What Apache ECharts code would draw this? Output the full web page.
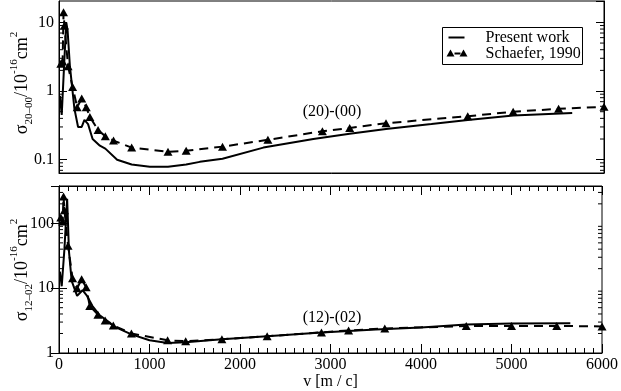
<!DOCTYPE html>
<html>
<head>
<meta charset="utf-8">
<script src="https://cdn.jsdelivr.net/npm/echarts@6/dist/echarts.min.js"></script>
<style>
  html, body { margin: 0; padding: 0; background: #fff; }
  #chart { width: 621px; height: 391px; }
</style>
</head>
<body>
<div id="chart"></div>
<script>
// (20)-(00) panel
var presentTopV = [10, 30, 60, 80, 95, 120, 170, 210, 250, 280, 320, 370, 450, 510, 640, 800, 1000, 1200, 1400, 1550, 1800, 2250, 2800, 3200, 3600, 4100, 4500, 5000, 5650];
var presentTop = [0.85, 0.45, 3, 10, 7.5, 2.3, 0.55, 0.3, 0.3, 0.38, 0.33, 0.2, 0.16, 0.145, 0.1, 0.085, 0.079, 0.079, 0.085, 0.093, 0.103, 0.15, 0.2, 0.238, 0.28, 0.33, 0.38, 0.44, 0.48];
var schaeferTopV = [20, 40, 50, 60, 100, 150, 200, 250, 300, 340, 430, 510, 600, 800, 1200, 1400, 1800, 2300, 2900, 3200, 3600, 4500, 5000, 5500, 6000];
var schaeferTop = [2.5, 2.7, 14, 9, 2.3, 1.15, 0.58, 0.78, 0.58, 0.42, 0.27, 0.22, 0.19, 0.15, 0.13, 0.135, 0.155, 0.195, 0.26, 0.29, 0.34, 0.43, 0.5, 0.55, 0.59];

// (12)-(02) panel
var presentBotV = [10, 30, 60, 90, 110, 140, 200, 260, 310, 370, 450, 560, 600, 800, 1000, 1200, 1400, 1800, 2300, 2900, 3500, 4000, 4500, 5000, 5650];
var presentBot = [18, 10.7, 40, 240, 37, 13, 7.6, 9.3, 7.6, 5.3, 3.8, 2.95, 2.6, 1.94, 1.57, 1.43, 1.47, 1.63, 1.81, 2.08, 2.31, 2.48, 2.75, 2.85, 2.87];
var schaeferBotV = [20, 40, 50, 60, 100, 150, 200, 250, 300, 340, 430, 510, 600, 800, 1200, 1400, 1800, 2300, 2900, 3200, 3600, 4500, 5000, 5500, 6000];
var schaeferBot = [123, 107, 260, 160, 45, 14.2, 10, 13.7, 10.3, 5.3, 3.9, 3.16, 2.66, 2.0, 1.57, 1.52, 1.63, 1.81, 2.08, 2.23, 2.39, 2.6, 2.6, 2.62, 2.57];

// log minor ticks
var minorTop = [0.07, 0.08, 0.09, 0.2, 0.3, 0.4, 0.5, 0.6, 0.7, 0.8, 0.9, 2, 3, 4, 5, 6, 7, 8, 9];
var minorBot = [2, 3, 4, 5, 6, 7, 8, 9, 20, 30, 40, 50, 60, 70, 80, 90, 200, 300];

var xTicks = [0, 1000, 2000, 3000, 4000, 5000, 6000];

function pairs(xs, ys) {
  return xs.map(function (x, i) { return [x, ys[i]]; });
}

var FONT = 'Liberation Serif';
var chart = echarts.init(document.getElementById('chart'));

function minorTickItem(params, api) {
  var v = api.value(1);
  var l = api.coord([xTicks[0], v]);
  var r = api.coord([xTicks[xTicks.length - 1], v]);
  return {
    type: 'group',
    children: [
      { type: 'line', shape: { x1: l[0], y1: l[1], x2: l[0] + 4, y2: l[1] }, style: { stroke: '#000', lineWidth: 1 } },
      { type: 'line', shape: { x1: r[0] - 4, y1: r[1], x2: r[0], y2: r[1] }, style: { stroke: '#000', lineWidth: 1 } }
    ]
  };
}

function yAxis(grid, pos, min, max, labels, showMin) {
  return {
    type: 'log', logBase: 10, gridIndex: grid, position: pos, min: min, max: max,
    axisLine: { show: true, lineStyle: { color: '#000' } },
    axisTick: { inside: true, length: 8, lineStyle: { color: '#000' } },
    axisLabel: {
      show: labels, showMinLabel: showMin, showMaxLabel: false,
      color: '#000', fontFamily: FONT, fontSize: 16, margin: 5
    },
    splitLine: { show: false }
  };
}

var axisName = {
  n: { fontFamily: FONT, fontSize: 18, color: '#000', lineHeight: 26 },
  sub: { fontFamily: FONT, fontSize: 11, color: '#000', lineHeight: 26, verticalAlign: 'bottom' },
  sup: { fontFamily: FONT, fontSize: 11, color: '#000', lineHeight: 26, verticalAlign: 'top' }
};

var textBase = { fontFamily: FONT, fontSize: 16, fill: '#000' };

chart.setOption({
  animation: false,
  textStyle: { fontFamily: FONT },
  grid: [
    { left: 59, right: 17, top: 1, height: 172, show: true, borderColor: '#000', borderWidth: 1 },
    { left: 59, right: 17, top: 186, height: 170, show: true, borderColor: '#000', borderWidth: 1 }
  ],
  xAxis: [
    {
      type: 'value', gridIndex: 0, min: 0, max: 6000, interval: 1000,
      axisLine: { show: true, lineStyle: { color: '#000' } },
      axisTick: { show: false }, axisLabel: { show: false }, splitLine: { show: false }
    },
    {
      type: 'value', gridIndex: 1, min: 0, max: 6000, interval: 1000,
      name: 'v [m / c]', nameLocation: 'middle', nameGap: 21,
      nameTextStyle: { fontFamily: FONT, fontSize: 16, color: '#000' },
      axisLine: { show: true, lineStyle: { color: '#000' } },
      axisTick: { inside: true, length: 9, lineStyle: { color: '#000' } },
      minorTick: { show: true, splitNumber: 10, length: 5, lineStyle: { color: '#000' } },
      axisLabel: {
        color: '#000', fontFamily: FONT, fontSize: 16, margin: 4,
        formatter: function (v) { return String(v); }
      },
      splitLine: { show: false }
    },
    {
      type: 'value', gridIndex: 1, position: 'top', min: 0, max: 6000, interval: 1000,
      axisLine: { show: true, lineStyle: { color: '#000' } },
      axisTick: { inside: true, length: 9, lineStyle: { color: '#000' } },
      minorTick: { show: true, splitNumber: 10, length: 5, lineStyle: { color: '#000' } },
      axisLabel: { show: false }, splitLine: { show: false }
    }
  ],
  yAxis: [
    yAxis(0, 'left', 0.064, 20.5, true, false),
    yAxis(0, 'right', 0.064, 20.5, false, false),
    yAxis(1, 'left', 1, 377, true, true),
    yAxis(1, 'right', 1, 377, false, false)
  ],
  graphic: [
    {
      type: 'text', x: 22, y: 83, rotation: Math.PI / 2,
      style: {
        text: '{n|σ}{sub|20–00}{n|/10}{sup|-16}{n|cm}{sup|2}',
        rich: axisName, align: 'center', verticalAlign: 'middle'
      }
    },
    {
      type: 'text', x: 22, y: 270, rotation: Math.PI / 2,
      style: {
        text: '{n|σ}{sub|12–02}{n|/10}{sup|-16}{n|cm}{sup|2}',
        rich: axisName, align: 'center', verticalAlign: 'middle'
      }
    },
    {
      type: 'text', x: 332, y: 112,
      style: Object.assign({ text: '(20)-(00)', align: 'center', verticalAlign: 'middle' }, textBase)
    },
    {
      type: 'text', x: 332, y: 318,
      style: Object.assign({ text: '(12)-(02)', align: 'center', verticalAlign: 'middle' }, textBase)
    },
    // legend box
    {
      type: 'group', left: 442, top: 27,
      children: [
        { type: 'rect', shape: { x: 0, y: 0, width: 140, height: 37 }, style: { fill: '#fff', stroke: '#000', lineWidth: 1 } },
        { type: 'line', shape: { x1: 6, y1: 10, x2: 22, y2: 10 }, style: { stroke: '#000', lineWidth: 2 } },
        { type: 'text', x: 43, y: 10, style: Object.assign({ text: 'Present work', verticalAlign: 'middle' }, textBase) },
        { type: 'polygon', shape: { points: [[4, 29], [8, 22], [12, 29]] }, style: { fill: '#000' } },
        { type: 'line', shape: { x1: 12, y1: 26, x2: 18, y2: 26 }, style: { stroke: '#000', lineWidth: 2 } },
        { type: 'polygon', shape: { points: [[17, 29], [21, 22], [25, 29]] }, style: { fill: '#000' } },
        { type: 'text', x: 43, y: 26, style: Object.assign({ text: 'Schaefer, 1990', verticalAlign: 'middle' }, textBase) }
      ]
    }
  ],
  series: [
    {
      name: 'Present work', type: 'line', xAxisIndex: 0, yAxisIndex: 0,
      data: pairs(presentTopV, presentTop), showSymbol: false, symbol: 'none',
      lineStyle: { color: '#000', width: 2 }, itemStyle: { color: '#000' }
    },
    {
      name: 'Schaefer, 1990', type: 'line', xAxisIndex: 0, yAxisIndex: 0,
      data: pairs(schaeferTopV, schaeferTop), symbol: 'triangle', symbolSize: [9, 8],
      lineStyle: { color: '#000', width: 2, type: [9, 6] }, itemStyle: { color: '#000' }
    },
    {
      name: 'Present work', type: 'line', xAxisIndex: 1, yAxisIndex: 2,
      data: pairs(presentBotV, presentBot), showSymbol: false, symbol: 'none',
      lineStyle: { color: '#000', width: 2 }, itemStyle: { color: '#000' }
    },
    {
      name: 'Schaefer, 1990', type: 'line', xAxisIndex: 1, yAxisIndex: 2,
      data: pairs(schaeferBotV, schaeferBot), symbol: 'triangle', symbolSize: [9, 8],
      lineStyle: { color: '#000', width: 2, type: [9, 6] }, itemStyle: { color: '#000' }
    },
    {
      type: 'custom', xAxisIndex: 0, yAxisIndex: 0, silent: true, clip: false,
      data: minorTop.map(function (v) { return [0, v]; }), renderItem: minorTickItem
    },
    {
      type: 'custom', xAxisIndex: 1, yAxisIndex: 2, silent: true, clip: false,
      data: minorBot.map(function (v) { return [0, v]; }), renderItem: minorTickItem
    }
  ]
});
</script>
</body>
</html>
